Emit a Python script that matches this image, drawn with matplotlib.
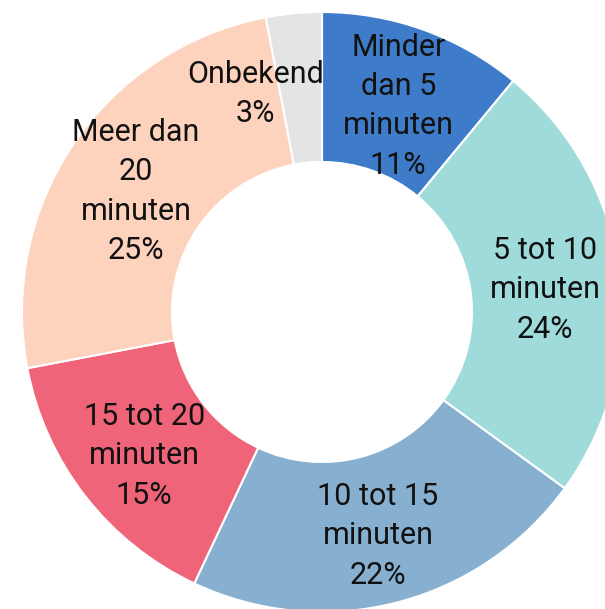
import numpy as np
import matplotlib.pyplot as plt

# data
categories = ["Minder\ndan 5\nminuten", "5 tot 10\nminuten", "10 tot 15\nminuten",
              "15 tot 20\nminuten", "Meer dan\n20\nminuten", "Onbekend"]
percentages = [11, 24, 22, 15, 25, 3]
colors = ["#3E7CC9", "#9FDBDA", "#87B0D0", "#EF6479", "#FED3BE", "#E3E5E5"]

plt.rcParams['font.family'] = ['Roboto', 'DejaVu Sans']

fig = plt.figure(figsize=(6.05, 6.09), dpi=100)
ax = fig.add_axes([0, 0, 1, 1])

wedges, _ = ax.pie(percentages, colors=colors, startangle=90, counterclock=False,
                   radius=1, wedgeprops=dict(width=0.5, edgecolor="white", linewidth=1.5))

# labels in the middle of the ring
for w, cat, pct in zip(wedges, categories, percentages):
    mid = np.deg2rad((w.theta1 + w.theta2) / 2)
    x = 0.75 * np.cos(mid)
    y = 0.75 * np.sin(mid) - 0.02
    if cat == "Onbekend":
        x -= 0.15
    ax.text(x, y, f"{cat}\n{pct}%", ha="center", va="center", fontsize=22,
            color="#111111", linespacing=1.45)

# scale: 300 px per unit, centre at (322, 312) px from the top-left
ax.set_aspect("auto")
ax.set_xlim(-322 / 300, (605 - 322) / 300)
ax.set_ylim(-(609 - 312) / 300, 312 / 300)
ax.axis("off")

fig.savefig("out.png", dpi=100)
